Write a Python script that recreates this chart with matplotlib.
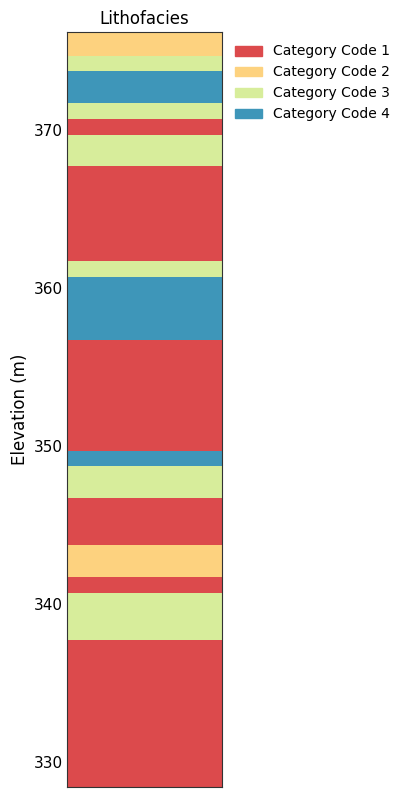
import matplotlib

matplotlib.use("Agg")

import matplotlib.pyplot as plt
from matplotlib.patches import Patch

# interval tops/bottoms (m) and lithofacies code for each interval
bottoms = [328.4, 337.7, 340.7, 341.7, 343.7, 346.7, 348.7, 349.7, 356.7, 360.7,
           361.7, 367.7, 369.7, 370.7, 371.7, 373.7, 374.7]
tops = [337.7, 340.7, 341.7, 343.7, 346.7, 348.7, 349.7, 356.7, 360.7, 361.7,
        367.7, 369.7, 370.7, 371.7, 373.7, 374.7, 376.2]
codes = [1, 3, 1, 2, 1, 3, 4, 1, 4, 3, 1, 3, 1, 3, 4, 3, 2]

code_labels = ["Category Code 1", "Category Code 2", "Category Code 3", "Category Code 4"]
code_colors = ["#dc4a4c", "#fdd27f", "#d7ed9b", "#3e96b9"]

fig = plt.figure(figsize=(4.05, 7.97), dpi=100)
ax = fig.add_axes([67 / 405, 1 - 787 / 797, 155 / 405, 755 / 797])

for b, t, c in zip(bottoms, tops, codes):
    ax.barh(b, 1, height=t - b, left=0, align="edge", color=code_colors[c - 1], linewidth=0)

ax.set_xlim(0, 1)
ax.set_ylim(min(bottoms), max(tops))
ax.set_xticks([])
ax.set_yticks([330, 340, 350, 360, 370])
ax.tick_params(axis="y", length=0, labelsize=11, pad=3)
for s in ax.spines.values():
    s.set_color("#333333")
    s.set_linewidth(0.8)

ax.set_title("Lithofacies", fontsize=12, pad=6)
ax.set_ylabel("Elevation (m)", fontsize=12, labelpad=3.5)

handles = [Patch(color=col, label=lab) for col, lab in zip(code_colors, code_labels)]
ax.legend(handles=handles, loc="upper left", bbox_to_anchor=(1.0, 1.0), frameon=False,
          fontsize=10, handlelength=2.0, handleheight=0.7)

fig.savefig("out.png", dpi=100)
